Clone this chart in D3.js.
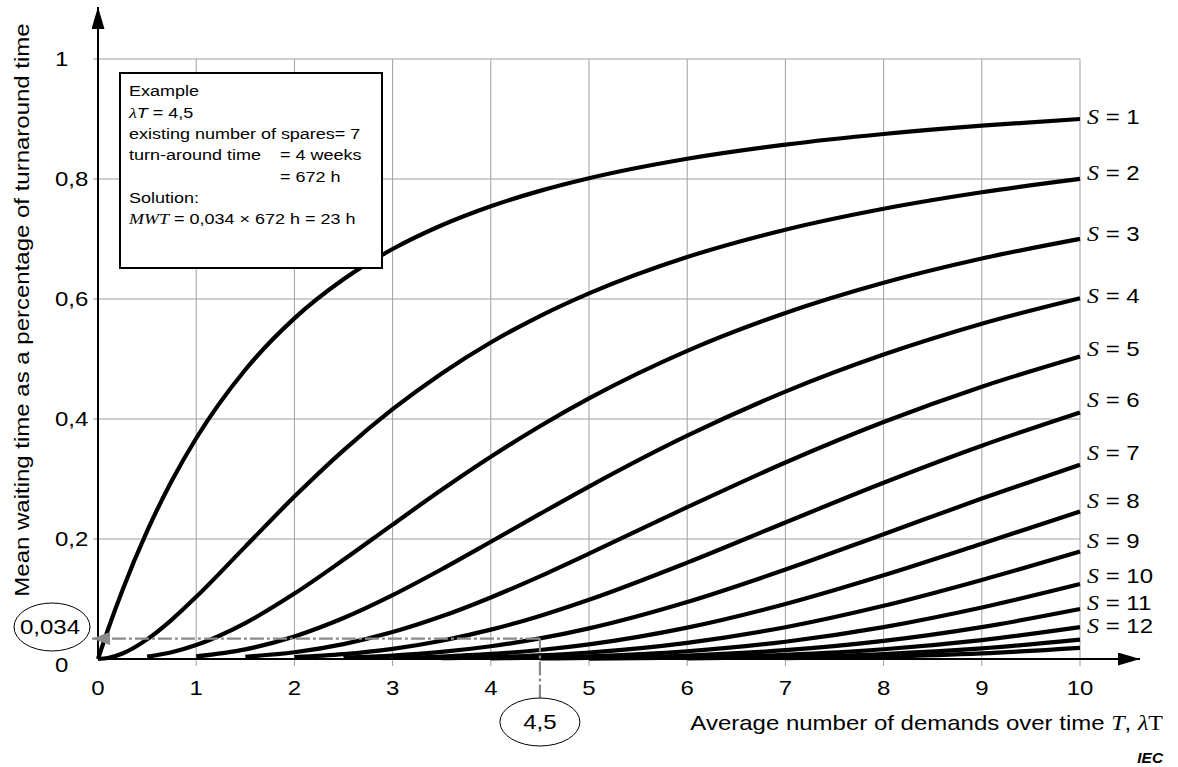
<!DOCTYPE html>
<html>
<head>
<meta charset="utf-8">
<script src="https://cdn.jsdelivr.net/npm/d3@7"></script>
<style>
  body { margin: 0; background: #fff; }
  svg { display: block; }
  text { font-family: "Liberation Sans", Arial, sans-serif; fill: #000; }
  .serif { font-family: "Liberation Serif", "Times New Roman", serif; font-style: italic; }
</style>
</head>
<body>
<svg id="chart" width="1178" height="767"></svg>
<script>
// Average number of demands over the turnaround time (λT)
const lambdaT = [0, 0.1, 0.25, 0.5, 0.75, 1, 1.5, 2, 2.5, 3, 3.5, 4, 4.5, 5, 6, 7, 8, 9, 10];

// Mean waiting time as a fraction of turnaround time, one array per spare count S
const wait_S1  = [0, 0.0484, 0.1152, 0.2131, 0.2965, 0.3679, 0.4821, 0.5677, 0.6328, 0.6833, 0.7229, 0.7546, 0.7802, 0.8013, 0.8337, 0.8573, 0.8750, 0.8889, 0.9000];
const wait_S2  = [0, 0.0016, 0.0092, 0.0327, 0.0653, 0.1036, 0.1873, 0.2707, 0.3478, 0.4163, 0.4760, 0.5275, 0.5716, 0.6094, 0.6700, 0.7155, 0.7504, 0.7779, 0.8001];
const wait_S3  = [null, null, null, 0.0039, 0.0113, 0.0233, 0.0599, 0.1090, 0.1653, 0.2240, 0.2820, 0.3370, 0.3880, 0.4344, 0.5136, 0.5768, 0.6271, 0.6675, 0.7003];
const wait_S4  = [null, null, null, null, null, 0.0043, 0.0161, 0.0376, 0.0683, 0.1065, 0.1496, 0.1954, 0.2418, 0.2874, 0.3722, 0.4457, 0.5074, 0.5588, 0.6013];
const wait_S5  = [null, null, null, null, null, null, 0.0037, 0.0112, 0.0248, 0.0449, 0.0711, 0.1026, 0.1378, 0.1755, 0.2530, 0.3275, 0.3949, 0.4538, 0.5042];
const wait_S6  = [null, null, null, null, null, null, null, 0.0030, 0.0080, 0.0169, 0.0305, 0.0489, 0.0718, 0.0987, 0.1606, 0.2276, 0.2938, 0.3555, 0.4109];
const wait_S7  = [null, null, null, null, null, null, null, null, 0.0023, 0.0057, 0.0118, 0.0212, 0.0343, 0.0511, 0.0950, 0.1490, 0.2080, 0.2674, 0.3239];
const wait_S8  = [null, null, null, null, null, null, null, null, null, 0.0018, 0.0042, 0.0084, 0.0150, 0.0244, 0.0523, 0.0917, 0.1396, 0.1922, 0.2460];
const wait_S9  = [null, null, null, null, null, null, null, null, null, null, 0.0013, 0.0031, 0.0061, 0.0108, 0.0269, 0.0530, 0.0887, 0.1318, 0.1792];
const wait_S10 = [null, null, null, null, null, null, null, null, null, null, null, 0.0010, 0.0023, 0.0044, 0.0129, 0.0288, 0.0532, 0.0859, 0.1250];
const wait_S11 = [null, null, null, null, null, null, null, null, null, null, null, null, 0.0008, 0.0017, 0.0058, 0.0147, 0.0302, 0.0532, 0.0833];
const wait_S12 = [null, null, null, null, null, null, null, null, null, null, null, null, null, 0.0006, 0.0024, 0.0071, 0.0162, 0.0314, 0.0530];
const wait_S13 = [null, null, null, null, null, null, null, null, null, null, null, null, null, null, 0.0010, 0.0032, 0.0083, 0.0176, 0.0322];
const wait_S14 = [null, null, null, null, null, null, null, null, null, null, null, null, null, null, null, 0.0014, 0.0040, 0.0093, 0.0186];

const spareCounts = [1, 2, 3, 4, 5, 6, 7, 8, 9, 10, 11, 12, 13, 14];
const labelledSpares = [1, 2, 3, 4, 5, 6, 7, 8, 9, 10, 11, 12];

const xTicks = [0, 1, 2, 3, 4, 5, 6, 7, 8, 9, 10];
const yTicks = [0, 0.2, 0.4, 0.6, 0.8, 1];
const yTickLabels = ["0", "0,2", "0,4", "0,6", "0,8", "1"];

// Worked example: λT = 4,5 with 7 spares
const exampleLambdaT = 4.5;
const exampleWait = 0.034;

const waitBySpares = [wait_S1, wait_S2, wait_S3, wait_S4, wait_S5, wait_S6, wait_S7,
                      wait_S8, wait_S9, wait_S10, wait_S11, wait_S12, wait_S13, wait_S14];

// ---------------------------------------------------------------------------
const svg = d3.select("#chart");
const x = d3.scaleLinear().domain([0, 10]).range([98, 1080]);
const y = d3.scaleLinear().domain([0, 1]).range([659, 59]);

// The lettering of this figure is set wide; text is stretched horizontally.
const WIDE = 1.2;
function put(sel, px, py, sx = WIDE, rot = 0) {
  return sel.attr("transform",
    `translate(${px},${py})` + (rot ? ` rotate(${rot})` : "") + ` scale(${sx},1)`);
}

const defs = svg.append("defs");
function arrow(id, color, w, h) {
  defs.append("marker")
    .attr("id", id).attr("viewBox", `0 0 ${w} ${h}`)
    .attr("refX", w).attr("refY", h / 2)
    .attr("markerWidth", w).attr("markerHeight", h)
    .attr("markerUnits", "userSpaceOnUse")
    .attr("orient", "auto")
    .append("path").attr("d", `M0,0L${w},${h / 2}L0,${h}Z`).attr("fill", color);
}
arrow("axisArrow", "#000", 22, 13);
arrow("guideArrow", "#8a8a8a", 18, 13);

// Grid
const grid = svg.append("g").attr("stroke", "#a0a0a0").attr("stroke-width", 1);
grid.selectAll("line.v").data(xTicks.filter(d => d > 0)).join("line")
  .attr("x1", d => x(d)).attr("x2", d => x(d))
  .attr("y1", y(1)).attr("y2", y(0) + 7);
grid.selectAll("line.h").data(yTicks.filter(d => d > 0)).join("line")
  .attr("x1", x(0) - 5).attr("x2", x(10))
  .attr("y1", d => y(d)).attr("y2", d => y(d));

// Tick labels
svg.append("g").selectAll("text").data(xTicks).join("text")
  .each(function (d) { put(d3.select(this), x(d), 688); })
  .attr("text-anchor", "middle").attr("dominant-baseline", "central")
  .style("font-size", "20px").text(d => d);

svg.append("g").selectAll("text").data(yTicks).join("text")
  .each(function (d) { put(d3.select(this), 55, d === 0 ? y(d) + 6 : y(d)); })
  .attr("dominant-baseline", "central")
  .style("font-size", "20px").text((d, i) => yTickLabels[i]);

// Curves
const line = d3.line()
  .defined(d => d[1] != null)
  .x(d => x(d[0])).y(d => y(d[1]))
  .curve(d3.curveMonotoneX);

svg.append("g").selectAll("path").data(waitBySpares).join("path")
  .attr("d", vals => line(lambdaT.map((t, i) => [t, vals[i]])))
  .attr("fill", "none").attr("stroke", "#000").attr("stroke-width", 4.2)
  .attr("stroke-linejoin", "round");

// Axes with arrowheads
svg.append("line").attr("x1", x(0)).attr("x2", 1140).attr("y1", y(0)).attr("y2", y(0))
  .attr("stroke", "#000").attr("stroke-width", 2).attr("marker-end", "url(#axisArrow)");
svg.append("line").attr("x1", x(0)).attr("x2", x(0)).attr("y1", y(0)).attr("y2", 7)
  .attr("stroke", "#000").attr("stroke-width", 2).attr("marker-end", "url(#axisArrow)");

// Curve labels S = n
const labelNudge = [-2, -6, -5, -2, -8, -13, -12, -11, -11, -8, -6, -1];
const labels = svg.append("g");
labelledSpares.forEach((s, i) => {
  const vals = waitBySpares[s - 1];
  const t = put(labels.append("text"), 1087, y(vals[vals.length - 1]) + labelNudge[i])
    .attr("dominant-baseline", "central").style("font-size", "20px");
  t.append("tspan").attr("class", "serif").text("S");
  t.append("tspan").text(` = ${s}`);
});

// Reading guide for the example
const guide = svg.append("g").attr("stroke", "#8a8a8a").attr("stroke-width", 2.2)
  .attr("stroke-dasharray", "14,3,3,3").attr("fill", "none");
guide.append("line")
  .attr("x1", x(exampleLambdaT)).attr("x2", 92)
  .attr("y1", y(exampleWait)).attr("y2", y(exampleWait))
  .attr("marker-end", "url(#guideArrow)");
guide.append("line")
  .attr("x1", x(exampleLambdaT)).attr("x2", x(exampleLambdaT))
  .attr("y1", y(exampleWait)).attr("y2", 698);

// Circled readings
svg.append("ellipse").attr("cx", 52).attr("cy", 627).attr("rx", 38).attr("ry", 24)
  .attr("fill", "none").attr("stroke", "#000").attr("stroke-width", 1);
put(svg.append("text"), 50, 627).attr("text-anchor", "middle")
  .attr("dominant-baseline", "central").style("font-size", "20px")
  .text(String(exampleWait).replace(".", ","));
svg.append("ellipse").attr("cx", x(exampleLambdaT)).attr("cy", 722).attr("rx", 40).attr("ry", 24)
  .attr("fill", "none").attr("stroke", "#000").attr("stroke-width", 1);
put(svg.append("text"), x(exampleLambdaT), 722).attr("text-anchor", "middle")
  .attr("dominant-baseline", "central").style("font-size", "20px")
  .text(String(exampleLambdaT).replace(".", ","));

// Example box
const box = svg.append("g");
box.append("rect").attr("x", 120).attr("y", 73).attr("width", 262).attr("height", 195)
  .attr("fill", "#fff").attr("stroke", "#000").attr("stroke-width", 2);
const bx = 129, by = 91, lh = 21.3, fs = "15px";
function boxLine(row, parts, xPos) {
  const t = put(box.append("text"), xPos || bx, by + row * lh)
    .attr("dominant-baseline", "central").style("font-size", fs);
  parts.forEach(p => {
    const sp = t.append("tspan").text(p.t);
    if (p.serif) sp.attr("class", "serif");
    if (p.italic) sp.style("font-style", "italic");
  });
}
boxLine(0, [{ t: "Example" }]);
boxLine(1, [{ t: "λ", serif: true }, { t: "T", italic: true }, { t: " = 4,5" }]);
boxLine(2, [{ t: "existing number of spares= 7" }]);
boxLine(3, [{ t: "turn-around time" }]);
boxLine(3, [{ t: "= 4 weeks" }], 280);
boxLine(4, [{ t: "= 672 h" }], 280);
boxLine(5, [{ t: "Solution:" }]);
boxLine(6, [{ t: "MWT", serif: true }, { t: " = 0,034 × 672 h = 23 h" }]);

// Axis titles
put(svg.append("text"), 29, 310, WIDE, -90)
  .attr("text-anchor", "middle").style("font-size", "20px")
  .text("Mean waiting time as a percentage of turnaround time");

const xt = put(svg.append("text"), 1163, 723)
  .attr("text-anchor", "end").attr("dominant-baseline", "central").style("font-size", "20px");
xt.append("tspan").text("Average number of demands over time ");
xt.append("tspan").attr("class", "serif").text("T");
xt.append("tspan").text(", ");
xt.append("tspan").attr("class", "serif").text("λ");
xt.append("tspan").style("font-family", "'Liberation Serif', serif").text("T");

put(svg.append("text"), 1163, 758, 1.1).attr("text-anchor", "end")
  .attr("dominant-baseline", "central")
  .style("font-size", "14px").style("font-style", "italic").style("font-weight", "bold")
  .text("IEC");
</script>
</body>
</html>
